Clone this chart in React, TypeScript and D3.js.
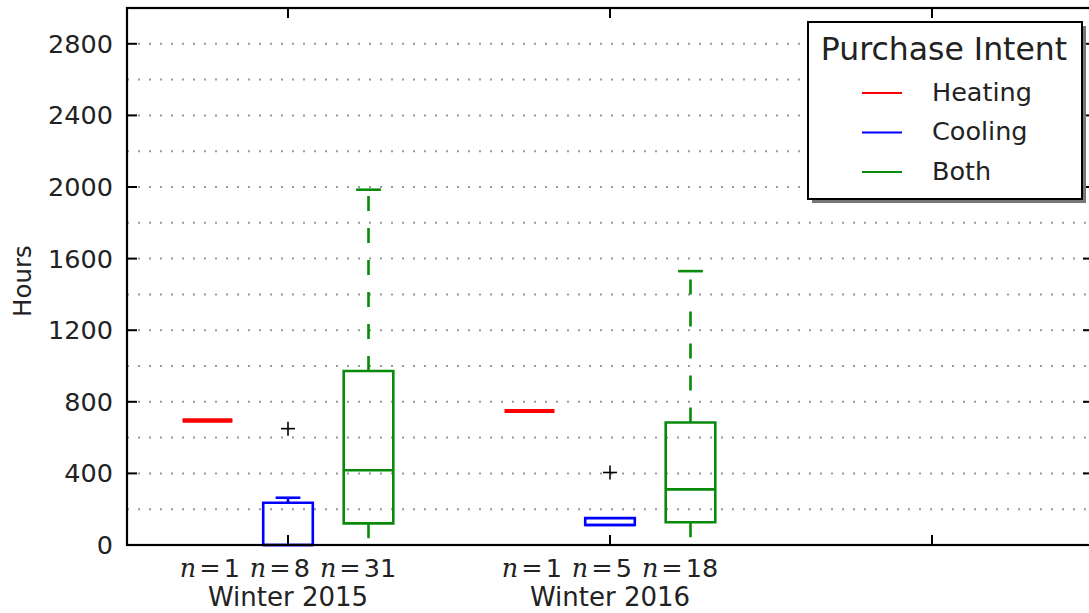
import React from 'react';
import * as d3 from 'd3';

const seasons = ['Winter 2015', 'Winter 2016', ''];
const intents = ['Heating', 'Cooling', 'Both'];
const intentColors = ['#ff0000', '#0000ff', '#0a8a0a'];

// sample sizes per season, per intent
const counts2015 = [1, 8, 31];
const counts2016 = [1, 5, 18];

// box stats: [whisker low, q1, median, q3, whisker high]
const stats2015 = [
    [695, 695, 695, 695, 695],
    [0, 0, 0, 236, 264],
    [38, 121, 418, 972, 1985],
];
const stats2016 = [
    [748, 748, 748, 748, 748],
    [112, 112, 112, 150, 150],
    [43, 127, 311, 684, 1530],
];
const fliers2015 = [[], [650], []];
const fliers2016 = [[], [405], []];

const yTickValues = [0, 400, 800, 1200, 1600, 2000, 2400, 2800];

const App = () => {
    const width = 1089;
    const height = 613;
    const plot = { left: 127, right: 1093, top: 8, bottom: 545 };
    const font = 'DejaVu Sans, sans-serif';

    const x = d3.scaleLinear().domain([0.5, 3.5]).range([plot.left, plot.right]);
    const y = d3.scaleLinear().domain([0, 3000]).range([plot.bottom, plot.top]);

    const offsets = [-0.25, 0, 0.25];
    const boxW = x(0.154) - x(0);
    const grid = y.ticks(15).filter(v => v > 0 && v < 3000);

    const groups = [
        { counts: counts2015, stats: stats2015, fliers: fliers2015 },
        { counts: counts2016, stats: stats2016, fliers: fliers2016 },
    ];

    const boxPath = (cx, lo, hi) =>
        `M${cx - boxW / 2},${y(lo)}H${cx + boxW / 2}V${y(hi)}H${cx - boxW / 2}Z`;

    return (
        <svg
            width={width}
            height={height}
            style={{ position: 'absolute', left: 0, top: 0, background: '#fff' }}
            fontFamily={font}
        >
            {/* dotted grid */}
            {grid.map(v => (
                <line
                    key={v}
                    x1={plot.left}
                    x2={plot.right}
                    y1={y(v)}
                    y2={y(v)}
                    stroke="#999"
                    strokeWidth={2}
                    strokeDasharray="2 9"
                />
            ))}

            {/* boxes */}
            {groups.map((g, gi) =>
                g.stats.map(([wlo, q1, med, q3, whi], k) => {
                    const cx = x(gi + 1 + offsets[k]);
                    const color = intentColors[k];
                    const flat = q1 === q3;
                    return (
                        <g key={`${gi}-${k}`} stroke={color} fill="none">
                            {whi > q3 && (
                                <line
                                    x1={cx} x2={cx} y1={y(q3)} y2={y(whi)}
                                    strokeWidth={2.6}
                                    strokeDasharray="15 17"
                                />
                            )}
                            {whi > q3 && (
                                <line
                                    x1={cx - boxW / 4} x2={cx + boxW / 4}
                                    y1={y(whi)} y2={y(whi)}
                                    strokeWidth={2.6}
                                />
                            )}
                            {wlo < q1 && (
                                <line x1={cx} x2={cx} y1={y(q1)} y2={y(wlo)} strokeWidth={2.6} />
                            )}
                            <path d={boxPath(cx, q1, q3)} strokeWidth={flat ? 4 : 2.6} />
                            <line
                                x1={cx - boxW / 2} x2={cx + boxW / 2}
                                y1={y(med)} y2={y(med)}
                                strokeWidth={flat ? 4 : 2.6}
                            />
                            {g.fliers[k].map((f, fi) => (
                                <g key={fi} stroke="#000" strokeWidth={1.6}>
                                    <line x1={cx - 7} x2={cx + 7} y1={y(f)} y2={y(f)} />
                                    <line x1={cx} x2={cx} y1={y(f) - 7} y2={y(f) + 7} />
                                </g>
                            ))}
                        </g>
                    );
                })
            )}

            {/* spines */}
            <rect
                x={plot.left}
                y={plot.top}
                width={plot.right - plot.left}
                height={plot.bottom - plot.top}
                fill="none"
                stroke="#000"
                strokeWidth={2.2}
            />

            {/* y ticks and labels */}
            {yTickValues.map(v => (
                <g key={v}>
                    <line x1={plot.left} x2={plot.left + 10} y1={y(v)} y2={y(v)} stroke="#000" strokeWidth={2} />
                    <line x1={plot.right - 10} x2={plot.right} y1={y(v)} y2={y(v)} stroke="#000" strokeWidth={2} />
                    <text
                        x={plot.left - 14}
                        y={y(v)}
                        textAnchor="end"
                        dominantBaseline="central"
                        fontSize={25.5}
                        fill="#222"
                    >
                        {v}
                    </text>
                </g>
            ))}

            {/* x ticks and labels */}
            {seasons.map((s, i) => {
                const cx = x(i + 1);
                const g = groups[i];
                return (
                    <g key={i}>
                        <line x1={cx} x2={cx} y1={plot.bottom} y2={plot.bottom - 10} stroke="#000" strokeWidth={2} />
                        <line x1={cx} x2={cx} y1={plot.top} y2={plot.top + 10} stroke="#000" strokeWidth={2} />
                        {g && (
                            <text x={cx} y={577} textAnchor="middle" fontSize={25.5} fill="#222">
                                {g.counts.map((c, k) => (
                                    <React.Fragment key={k}>
                                        <tspan dx={k > 0 ? 10 : 0} fontFamily="DejaVu Serif" fontStyle="italic">n</tspan>
                                        <tspan dx={3} fontFamily="DejaVu Serif">=</tspan>
                                        <tspan dx={3}>{c}</tspan>
                                    </React.Fragment>
                                ))}
                            </text>
                        )}
                        {s && (
                            <text x={cx} y={606} textAnchor="middle" fontSize={26} fill="#222">
                                {s}
                            </text>
                        )}
                    </g>
                );
            })}

            {/* y axis label */}
            <text
                transform="translate(31,281) rotate(-90)"
                textAnchor="middle"
                fontSize={24.5}
                fill="#222"
            >
                Hours
            </text>

            {/* legend */}
            <g>
                <rect x={812} y={26} width={274} height={177} fill="#777" />
                <rect x={808} y={22} width={274} height={177} fill="#fff" stroke="#000" strokeWidth={2} />
                <text x={944} y={60} textAnchor="middle" fontSize={31.5} fill="#222">
                    Purchase Intent
                </text>
                {intents.map((name, k) => {
                    const ly = 93 + k * 39.5;
                    return (
                        <g key={name}>
                            <line x1={862} x2={902} y1={ly} y2={ly} stroke={intentColors[k]} strokeWidth={2.2} />
                            <text x={932} y={ly + 7.5} fontSize={25.5} fill="#222">
                                {name}
                            </text>
                        </g>
                    );
                })}
            </g>
        </svg>
    );
};

export default App;
